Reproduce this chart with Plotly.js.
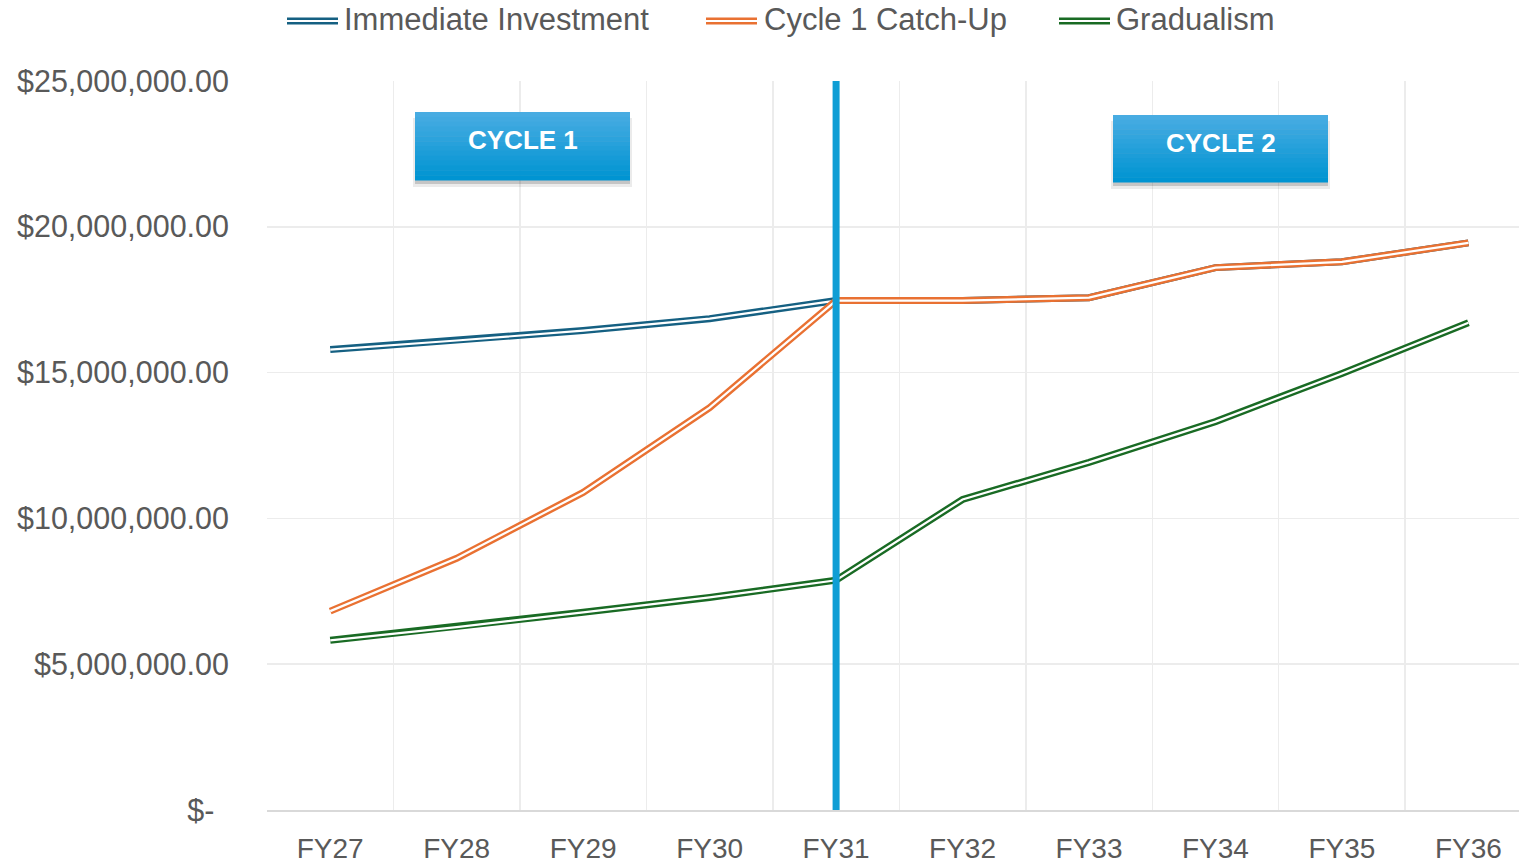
<!DOCTYPE html>
<html>
<head>
<meta charset="utf-8">
<script src="https://cdn.plot.ly/plotly-3.0.1.min.js"></script>
<style>html,body{margin:0;padding:0;overflow:hidden;background:#fff;}#chart{width:1519px;height:866px;}</style>
</head>
<body>
<div id="chart"></div>
<script>
const categories = ["FY27","FY28","FY29","FY30","FY31","FY32","FY33","FY34","FY35","FY36"];
const immediateInvestment = [15790000,16100000,16440000,16850000,17470000,17470000,17570000,18600000,18800000,19450000];
const cycle1CatchUp = [6820000,8630000,10890000,13800000,17470000,17470000,17570000,18600000,18800000,19450000];
const gradualism = [5820000,6270000,6780000,7290000,7880000,10650000,11920000,13320000,14970000,16710000];
const seriesNames = ["Immediate Investment","Cycle 1 Catch-Up","Gradualism"];
const yTickVals = [0,5000000,10000000,15000000,20000000,25000000];
const yTickText = ["$-\u00a0\u2009","$5,000,000.00","$10,000,000.00","$15,000,000.00","$20,000,000.00","$25,000,000.00"];
const cycleLabels = ["CYCLE 1","CYCLE 2"];
const dividerCategory = "FY31";

const colors = ["#156082","#E97132","#196B24"];
const seriesData = [immediateInvestment, cycle1CatchUp, gradualism];
const order = [0,2,1];
const traces = [];
order.forEach(i => {
  traces.push({x:categories,y:seriesData[i],type:"scatter",mode:"lines",name:seriesNames[i],
    line:{color:colors[i],width:7},showlegend:false,hoverinfo:"skip"});
  traces.push({x:categories,y:seriesData[i],type:"scatter",mode:"lines",name:seriesNames[i]+" inner",
    line:{color:"#ffffff",width:2.2},showlegend:false,hoverinfo:"skip"});
});

const L=267, R=1519, T=81, B=810;
const px = p => (p-L)/(R-L);
const py = p => (B-p)/(B-T);

const shapes = [];
const annotations = [];
const legendItems = [{sx:287,tx:342},{sx:706,tx:762},{sx:1059,tx:1114}];
legendItems.forEach((it,i)=>{
  shapes.push({type:"line",xref:"paper",yref:"paper",x0:px(it.sx),x1:px(it.sx+51),y0:py(21),y1:py(21),line:{color:colors[i],width:7}});
  shapes.push({type:"line",xref:"paper",yref:"paper",x0:px(it.sx),x1:px(it.sx+51),y0:py(21),y1:py(21),line:{color:"#ffffff",width:2.2}});
  annotations.push({xref:"paper",yref:"paper",x:px(it.tx),y:py(20),xanchor:"left",yanchor:"middle",showarrow:false,
    text:seriesNames[i],font:{family:"Liberation Sans, Arial, sans-serif",size:31,color:"#595959"}});
});
shapes.push({type:"line",xref:"x",yref:"paper",x0:dividerCategory,x1:dividerCategory,y0:0,y1:1,line:{color:"#0F9ED5",width:7},layer:"above"});
const boxes = [{x0:415,x1:630,y0:112,y1:180,ty:140},{x0:1113,x1:1328,y0:115,y1:182,ty:143}];
const gradTop = [72,172,226], gradBot = [0,148,210];
boxes.forEach((b,k)=>{
  shapes.push({type:"rect",xref:"paper",yref:"paper",x0:px(b.x0-2),x1:px(b.x1+2),y0:py(b.y1+7),y1:py(b.y0+6),fillcolor:"rgba(0,0,0,0.08)",line:{width:0},layer:"above"});
  shapes.push({type:"rect",xref:"paper",yref:"paper",x0:px(b.x0),x1:px(b.x1),y0:py(b.y1+4),y1:py(b.y0+4),fillcolor:"rgba(0,0,0,0.16)",line:{width:0},layer:"above"});
  const n=14, h=(b.y1-b.y0)/n;
  for(let s=0;s<n;s++){
    const t=s/(n-1);
    const c=gradTop.map((v,j)=>Math.round(v+(gradBot[j]-v)*t));
    shapes.push({type:"rect",xref:"paper",yref:"paper",x0:px(b.x0),x1:px(b.x1),y0:py(b.y0+(s+1)*h+0.5),y1:py(b.y0+s*h),
      fillcolor:`rgb(${c[0]},${c[1]},${c[2]})`,line:{width:0},layer:"above"});
  }
  annotations.push({xref:"paper",yref:"paper",x:px((b.x0+b.x1)/2),y:py(b.ty),xanchor:"center",yanchor:"middle",showarrow:false,
    text:"<b>"+cycleLabels[k]+"</b>",font:{family:"Liberation Sans, Arial, sans-serif",size:26,color:"#ffffff"}});
});

const layout = {
  width:1519,height:866,
  margin:{l:L,r:0,t:T,b:866-B,pad:0},
  paper_bgcolor:"#ffffff",plot_bgcolor:"#ffffff",
  showlegend:false,
  font:{family:"Liberation Sans, Arial, sans-serif",color:"#595959"},
  xaxis:{type:"category",range:[-0.5,9.4],tickson:"boundaries",showgrid:true,gridcolor:"#ececec",gridwidth:1.5,
    ticks:"",showline:true,linecolor:"#d9d9d9",linewidth:1.5,zeroline:false,
    tickfont:{size:28,color:"#595959"},ticklabelstandoff:13},
  yaxis:{range:[0,25000000],tickvals:yTickVals,ticktext:yTickText,showgrid:true,gridcolor:"#ececec",gridwidth:1.5,
    ticks:"",showline:false,zeroline:false,tickfont:{size:30.5,color:"#595959"},ticklabelstandoff:37},
  shapes:shapes,annotations:annotations
};
Plotly.newPlot("chart",traces,layout,{displayModeBar:false,staticPlot:true});
</script>
</body>
</html>
